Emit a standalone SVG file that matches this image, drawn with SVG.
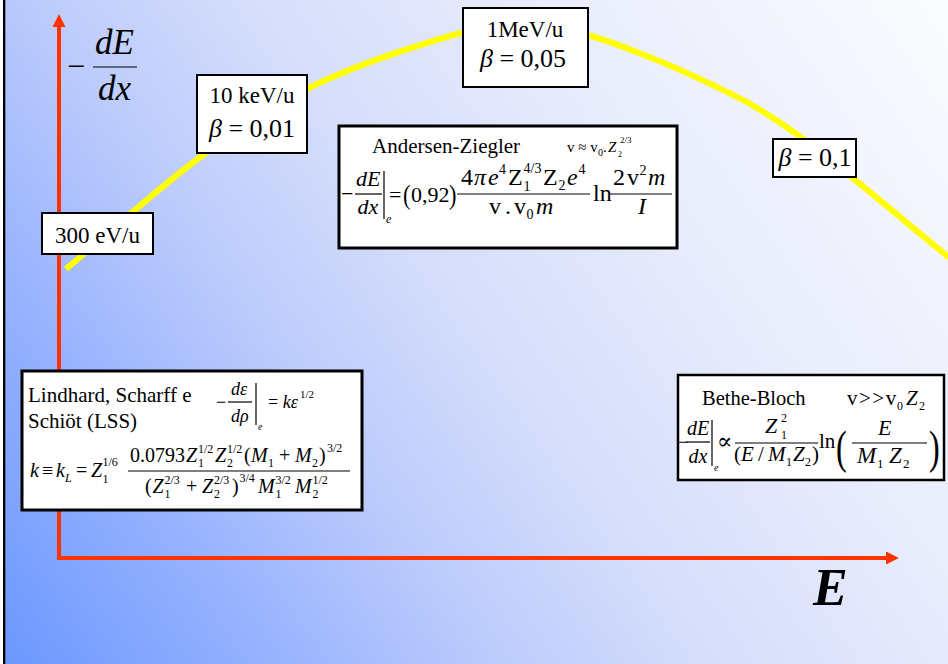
<svg xmlns="http://www.w3.org/2000/svg" width="948" height="664" viewBox="0 0 948 664">
  <style>
    .t { font-family: "Liberation Serif", "Times New Roman", "DejaVu Serif", serif; fill: #000; }
    .i { font-style: italic; }
    .box { fill: #fff; stroke: #000; }
    .bar { stroke: #000; stroke-width: 1.2; fill: none; }
    .axis { stroke: #ff3300; stroke-width: 4; fill: none; }
  </style>
  <defs>
    <linearGradient id="bg" gradientUnits="userSpaceOnUse" x1="0" y1="664" x2="948" y2="0">
      <stop offset="0" stop-color="#6b97ff"/>
      <stop offset="0.2" stop-color="#98b3fe"/>
      <stop offset="0.35" stop-color="#bccbfc"/>
      <stop offset="0.5" stop-color="#d5ddfb"/>
      <stop offset="0.7" stop-color="#e8ecfc"/>
      <stop offset="1" stop-color="#fbfcff"/>
    </linearGradient>
    <marker id="head" markerUnits="userSpaceOnUse" markerWidth="13" markerHeight="13" viewBox="0 0 12 12" refX="0" refY="6" orient="auto">
      <path d="M0,0 L12,6 L0,12 Z" fill="#ff3300"/>
    </marker>
  </defs>

  <!-- background -->
  <rect x="0" y="0" width="948" height="664" fill="#fff"/>
  <rect x="5" y="0" width="943" height="664" fill="url(#bg)"/>
  <rect x="3" y="0" width="2.3" height="664" fill="#000"/>

  <!-- stopping-power curve -->
  <path id="curve" d="M66,269 C110.3,232 157.8,188.5 199,158 C240.2,127.5 271.2,106.3 313,86 C354.8,65.7 415.7,46 450,36 C484.3,26 496,26.2 519,26 C542,25.8 557.8,26.2 588,35 C618.2,43.8 665.5,62.7 700,79 C734.5,95.3 753.7,103.5 795,133 C836.3,162.5 897,215 952,260" fill="none" stroke="#ffff00" stroke-width="6"/>

  <!-- axes -->
  <g id="connectors">
    <line class="axis" x1="59" y1="558" x2="59" y2="27" marker-end="url(#head)"/>
    <line class="axis" x1="57" y1="558" x2="886" y2="558" marker-end="url(#head)"/>
  </g>

  <!-- axis labels -->
  <g id="ylabel">
    <text class="t" x="67" y="77" font-size="32">−</text>
    <text class="t i" x="95" y="54" font-size="35">dE</text>
    <line class="bar" x1="93" y1="67" x2="137" y2="67" stroke-width="1.6"/>
    <text class="t i" x="98" y="100" font-size="35">dx</text>
  </g>
  <g id="xlabel">
    <text class="t i" x="813" y="605" font-size="52" font-weight="bold">E</text>
  </g>

  <!-- energy markers on the curve -->
  <g id="n300ev">
    <rect class="box" x="42" y="213" width="111" height="41" stroke-width="2"/>
    <text class="t" x="97.5" y="243" font-size="23" text-anchor="middle">300 eV/u</text>
  </g>
  <g id="n10kev">
    <rect class="box" x="197" y="75" width="110" height="78" stroke-width="2"/>
    <text class="t" x="252" y="103" font-size="23" text-anchor="middle">10 keV/u</text>
    <text class="t" x="252" y="137" font-size="26" text-anchor="middle"><tspan class="i">β</tspan> = 0,01</text>
  </g>
  <g id="n1mev">
    <rect class="box" x="463" y="8" width="125" height="79" stroke-width="2"/>
    <text class="t" x="525" y="37" font-size="23" text-anchor="middle">1MeV/u</text>
    <text class="t" x="523" y="67" font-size="26" text-anchor="middle"><tspan class="i">β</tspan> = 0,05</text>
  </g>
  <g id="nbeta01">
    <rect class="box" x="773" y="139" width="83" height="38" stroke-width="2"/>
    <text class="t" x="815" y="166" font-size="26" text-anchor="middle"><tspan class="i">β</tspan> = 0,1</text>
  </g>

  <!-- Andersen-Ziegler regime -->
  <g id="andersen">
    <rect class="box" x="339" y="126" width="338" height="122" stroke-width="3"/>
    <text class="t" x="372" y="153" font-size="21">Andersen-Ziegler</text>
    <text class="t" x="567" y="152" font-size="15">v ≈ v</text>
    <text class="t" x="598" y="156" font-size="10">0</text>
    <text class="t" x="603" y="152" font-size="15">.</text>
    <text class="t i" x="608" y="152" font-size="15">Z</text>
    <text class="t" x="618" y="157" font-size="8">2</text>
    <text class="t" x="620" y="143" font-size="9">2/3</text>

    <text class="t" x="341" y="201" font-size="22">−</text>
    <text class="t i" x="356" y="186" font-size="22">dE</text>
    <line class="bar" x1="355" y1="194" x2="382" y2="194"/>
    <text class="t i" x="357.5" y="214" font-size="22">dx</text>
    <line class="bar" x1="384" y1="171" x2="384" y2="219"/>
    <text class="t i" x="386" y="223" font-size="12">e</text>
    <text class="t" x="389" y="202" font-size="22">=</text>
    <text class="t" x="403" y="204" font-size="28" transform="translate(403,0) scale(0.8,1) translate(-403,0)">(</text>
    <text class="t" x="411" y="202" font-size="22">0,92</text>
    <text class="t" x="449" y="204" font-size="28" transform="translate(449,0) scale(0.8,1) translate(-449,0)">)</text>

    <text class="t" x="461" y="185" font-size="24">4</text>
    <text class="t i" x="474" y="185" font-size="24">π</text>
    <text class="t i" x="488" y="185" font-size="24">e</text>
    <text class="t" x="499" y="174" font-size="14">4</text>
    <text class="t" x="508" y="185" font-size="24">Z</text>
    <text class="t" x="523.5" y="191" font-size="14">1</text>
    <text class="t" x="523.5" y="173" font-size="14">4/3</text>
    <text class="t" x="543" y="185" font-size="24">Z</text>
    <text class="t" x="558.5" y="190" font-size="14">2</text>
    <text class="t i" x="567" y="185" font-size="24">e</text>
    <text class="t" x="578.5" y="174" font-size="14">4</text>
    <line class="bar" x1="457" y1="194" x2="590" y2="194"/>
    <text class="t" x="489" y="214" font-size="24">v</text>
    <text class="t" x="505" y="214" font-size="24">.</text>
    <text class="t" x="514" y="214" font-size="24">v</text>
    <text class="t" x="526.5" y="219" font-size="14">0</text>
    <text class="t i" x="536" y="214" font-size="24">m</text>

    <text class="t" x="593" y="201" font-size="24">ln</text>
    <text class="t" x="613" y="185" font-size="24">2</text>
    <text class="t" x="627" y="185" font-size="24">v</text>
    <text class="t" x="639.5" y="175" font-size="14">2</text>
    <text class="t i" x="648" y="185" font-size="24">m</text>
    <line class="bar" x1="610" y1="194" x2="672" y2="194"/>
    <text class="t i" x="638" y="214" font-size="24">I</text>
  </g>

  <!-- LSS regime -->
  <g id="lss">
    <rect class="box" x="22" y="371" width="340" height="139" stroke-width="3"/>
    <text class="t" x="28" y="402" font-size="21">Lindhard, Scharff e</text>
    <text class="t" x="28" y="428" font-size="21">Schiöt (LSS)</text>
    <text class="t" x="216" y="408" font-size="18">−</text>
    <text class="t i" x="231" y="395" font-size="18">dε</text>
    <line class="bar" x1="228" y1="402" x2="252" y2="402"/>
    <text class="t i" x="231" y="422" font-size="18">dρ</text>
    <line class="bar" x1="256" y1="383" x2="256" y2="425"/>
    <text class="t i" x="258" y="430" font-size="10">e</text>
    <text class="t" x="268" y="408" font-size="18">= <tspan class="i">kε</tspan></text>
    <text class="t" x="300" y="398" font-size="11">1/2</text>

    <text class="t i" x="30" y="477" font-size="20">k</text>
    <text class="t" x="42" y="477" font-size="20">≡</text>
    <text class="t i" x="56" y="477" font-size="20">k</text>
    <text class="t i" x="65" y="482" font-size="12">L</text>
    <text class="t" x="76" y="477" font-size="20">=</text>
    <text class="t i" x="91" y="477" font-size="20">Z</text>
    <text class="t" x="102.5" y="483" font-size="12">1</text>
    <text class="t" x="102.5" y="466" font-size="12">1/6</text>

    <text class="t" x="130" y="462" font-size="20">0.0793</text>
    <text class="t i" x="186" y="462" font-size="20">Z</text>
    <text class="t" x="198" y="467" font-size="12">1</text>
    <text class="t" x="198" y="453" font-size="12">1/2</text>
    <text class="t i" x="215" y="462" font-size="20">Z</text>
    <text class="t" x="227" y="467" font-size="12">2</text>
    <text class="t" x="227" y="453" font-size="12">1/2</text>
    <text class="t" x="244" y="462" font-size="20">(</text>
    <text class="t i" x="251" y="462" font-size="20">M</text>
    <text class="t" x="268" y="467" font-size="12">1</text>
    <text class="t" x="279" y="462" font-size="20">+</text>
    <text class="t i" x="295" y="462" font-size="20">M</text>
    <text class="t" x="312" y="467" font-size="12">2</text>
    <text class="t" x="319" y="462" font-size="20">)</text>
    <text class="t" x="327" y="452" font-size="12">3/2</text>
    <line class="bar" x1="128" y1="471" x2="350" y2="471"/>
    <text class="t" x="145" y="493" font-size="20">(</text>
    <text class="t i" x="152.5" y="493" font-size="20">Z</text>
    <text class="t" x="164.5" y="498" font-size="12">1</text>
    <text class="t" x="164.5" y="484" font-size="12">2/3</text>
    <text class="t" x="186" y="493" font-size="20">+</text>
    <text class="t i" x="202" y="493" font-size="20">Z</text>
    <text class="t" x="214" y="498" font-size="12">2</text>
    <text class="t" x="214" y="484" font-size="12">2/3</text>
    <text class="t" x="232" y="493" font-size="20">)</text>
    <text class="t" x="239.5" y="482" font-size="12">3/4</text>
    <text class="t i" x="258" y="493" font-size="20">M</text>
    <text class="t" x="275.5" y="498" font-size="12">1</text>
    <text class="t" x="275.5" y="484" font-size="12">3/2</text>
    <text class="t i" x="295" y="493" font-size="20">M</text>
    <text class="t" x="312.5" y="498" font-size="12">2</text>
    <text class="t" x="312.5" y="484" font-size="12">1/2</text>
  </g>

  <!-- Bethe-Bloch regime -->
  <g id="bethe">
    <rect class="box" x="678" y="375" width="266" height="105" stroke-width="2.5"/>
    <text class="t" x="702" y="405" font-size="20.5">Bethe-Bloch</text>
    <text class="t" x="847" y="405" font-size="21" letter-spacing="1.5">v&gt;&gt;v</text>
    <text class="t" x="897" y="410" font-size="12">0</text>
    <text class="t i" x="906" y="405" font-size="21">Z</text>
    <text class="t" x="919" y="410" font-size="12">2</text>

    <text class="t" x="678" y="448" font-size="18">−</text>
    <text class="t i" x="687" y="435" font-size="20">dE</text>
    <line class="bar" x1="686" y1="442" x2="710" y2="442"/>
    <text class="t i" x="688.5" y="463" font-size="20">dx</text>
    <line class="bar" x1="712" y1="420" x2="712" y2="466"/>
    <text class="t i" x="714" y="471" font-size="10">e</text>
    <text class="t" x="717" y="449" font-size="23">∝</text>
    <text class="t i" x="765" y="433" font-size="22">Z</text>
    <text class="t" x="781" y="439" font-size="12">1</text>
    <text class="t" x="781" y="422" font-size="12">2</text>
    <line class="bar" x1="735" y1="443" x2="818" y2="443"/>
    <text class="t" x="734" y="461" font-size="21">(</text>
    <text class="t i" x="741" y="461" font-size="21">E</text>
    <text class="t" x="758" y="461" font-size="21">/</text>
    <text class="t i" x="768" y="461" font-size="21">M</text>
    <text class="t" x="786" y="466" font-size="12">1</text>
    <text class="t i" x="793" y="461" font-size="21">Z</text>
    <text class="t" x="805" y="466" font-size="12">2</text>
    <text class="t" x="812" y="461" font-size="21">)</text>
    <text class="t" x="819" y="448" font-size="21">ln</text>
    <text class="t" x="836" y="463" font-size="46" transform="translate(836,0) scale(0.7,1) translate(-836,0)">(</text>
    <text class="t i" x="878" y="435" font-size="22">E</text>
    <line class="bar" x1="852" y1="443" x2="927" y2="443"/>
    <text class="t i" x="857" y="463" font-size="23">M</text>
    <text class="t" x="877" y="468" font-size="13">1</text>
    <text class="t i" x="889" y="463" font-size="23">Z</text>
    <text class="t" x="903" y="468" font-size="13">2</text>
    <text class="t" x="929" y="463" font-size="46" transform="translate(929,0) scale(0.7,1) translate(-929,0)">)</text>
  </g>
</svg>
